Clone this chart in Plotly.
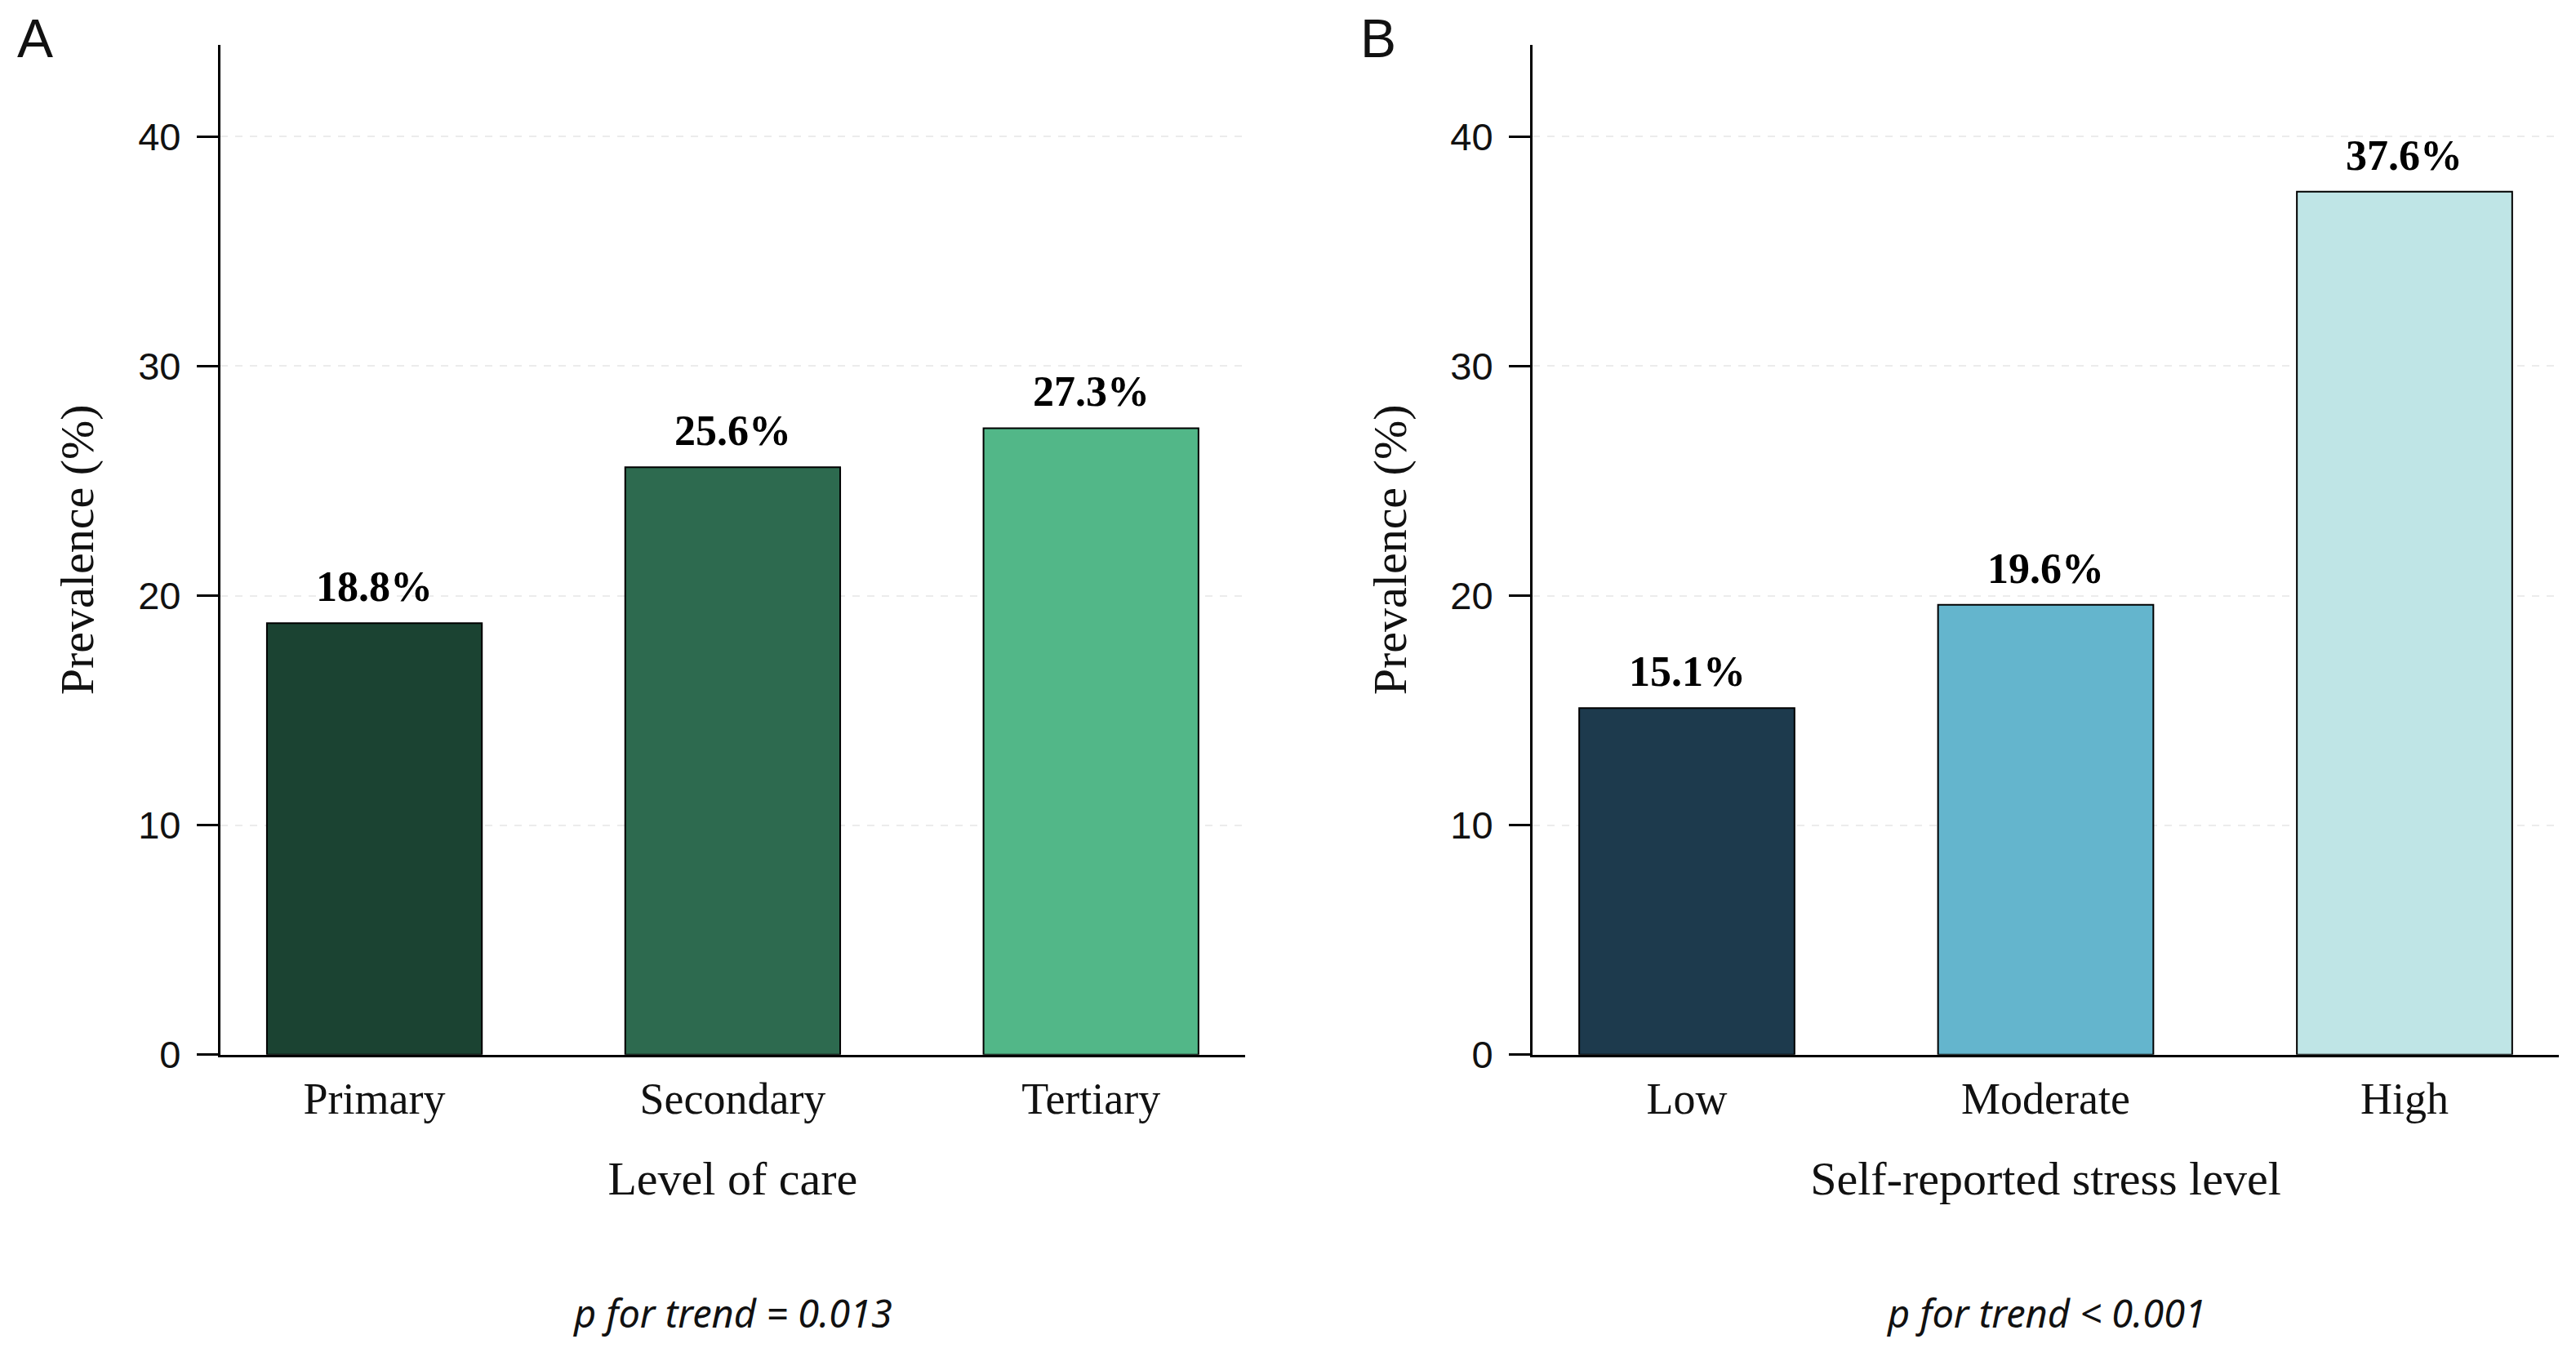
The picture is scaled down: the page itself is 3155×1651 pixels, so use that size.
import plotly.graph_objects as go
from plotly.subplots import make_subplots

# Panel A: level of care
care_levels = ['Primary', 'Secondary', 'Tertiary']
care_prevalence = [18.8, 25.6, 27.3]
care_colors = ['#1b4332', '#2d6a4f', '#52b788']
care_p_text = 'p for trend = 0.013'

# Panel B: self-reported stress
stress_levels = ['Low', 'Moderate', 'High']
stress_prevalence = [15.1, 19.6, 37.6]
stress_colors = ['#1d3a4d', '#64b5cd', '#bfe5e6']
stress_p_text = 'p for trend < 0.001'

y_ticks = [0, 10, 20, 30, 40]

SERIF = 'Liberation Serif'
SANS = 'Liberation Sans'

fig = make_subplots(rows=1, cols=2)

panels = [
    (1, care_levels, care_prevalence, care_colors, 'Level of care'),
    (2, stress_levels, stress_prevalence, stress_colors, 'Self-reported stress level'),
]

for col, cats, vals, colors, xtitle in panels:
    fig.add_trace(
        go.Bar(
            x=cats,
            y=vals,
            width=0.6,
            marker=dict(color=colors, line=dict(color='black', width=2)),
            showlegend=False,
        ),
        row=1, col=col
    )
    # bold value labels above the bars
    for c, v in zip(cats, vals):
        fig.add_annotation(
            x=c, y=v, text=f'<b>{v:.1f}%</b>',
            xref=f'x{col if col > 1 else ""}', yref=f'y{col if col > 1 else ""}',
            showarrow=False, yanchor='bottom', yshift=14,
            font=dict(family=SERIF, size=52, color='black'),
        )
    fig.update_xaxes(
        row=1, col=col,
        type='category',
        range=[-0.43, 2.43],
        showline=True, linecolor='black', linewidth=3,
        ticks='', ticklabelstandoff=4,
        tickfont=dict(family=SERIF, size=54, color='#111111'),
        showgrid=False,
        title=dict(text=xtitle, font=dict(family=SERIF, size=58, color='#111111'), standoff=48),
    )
    fig.update_yaxes(
        row=1, col=col,
        range=[0, 44],
        tickvals=y_ticks,
        showline=True, linecolor='black', linewidth=3,
        ticks='outside', ticklen=26, tickwidth=3, tickcolor='black',
        ticklabelstandoff=10,
        tickfont=dict(family=SANS, size=47, color='#111111'),
        showgrid=True, gridcolor='#ececec', gridwidth=1.5, griddash='dash',
        zeroline=False,
        title=dict(text='Prevalence (%)', font=dict(family=SERIF, size=58, color='#111111'), standoff=36),
    )

fig.update_layout(
    width=3155, height=1651,
    margin=dict(l=0, r=0, t=0, b=0),
    plot_bgcolor='white', paper_bgcolor='white',
    xaxis=dict(domain=[0.0830, 0.4808]),
    xaxis2=dict(domain=[0.5924, 0.9908]),
    yaxis=dict(domain=[0.2100, 0.9711]),
    yaxis2=dict(domain=[0.2100, 0.9711]),
    bargap=0.4,
)

# trend p-values under each panel
for xref, text in [('x', care_p_text), ('x2', stress_p_text)]:
    fig.add_annotation(
        x=1, y=0.0155, xref=xref, yref='paper', text=f'<i>{text}</i>',
        showarrow=False, yanchor='middle',
        font=dict(family='Noto Sans', size=47, color='#111111'),
    )

# panel letters
for x, letter in [(0.011, 'A'), (0.5324, 'B')]:
    fig.add_annotation(
        x=x, y=1.0, xref='paper', yref='paper', text=letter,
        showarrow=False, xanchor='center', yanchor='top',
        font=dict(family=SANS, size=66, color='#111111'),
    )

fig.write_html('out.html')
